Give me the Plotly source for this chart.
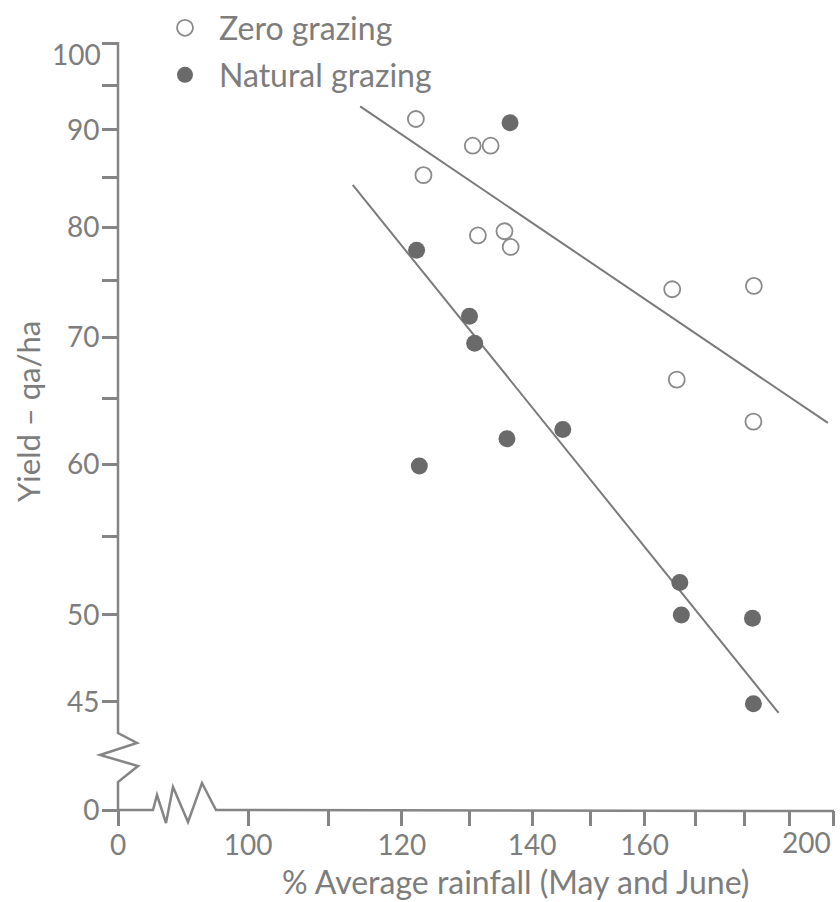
import math
import plotly.graph_objects as go

# ---------------- data ----------------
zero_x = [122.0, 130.5, 133.3, 123.1, 131.3, 135.5, 136.5, 165.3, 182.1, 166.2, 182.0]
zero_y = [91.2, 88.3, 88.3, 85.2, 79.2, 79.6, 78.1, 74.2, 74.5, 66.5, 63.2]
natural_x = [136.4, 122.1, 130.0, 130.8, 145.2, 135.9, 122.5, 166.8, 167.1, 181.8, 182.0]
natural_y = [90.8, 77.8, 71.8, 69.5, 62.6, 61.9, 59.9, 52.0, 50.0, 49.8, 44.9]

zero_fit_x = [114.2, 198.8]
zero_fit_y = [92.6, 63.1]
natural_fit_x = [113.2, 187.5]
natural_fit_y = [84.2, 44.4]

x_tick_vals = [100, 110, 120, 130, 140, 150, 160, 170, 180, 190, 200]
x_tick_text = ["100", "", "120", "", "140", "", "160", "", "", "", "200"]
y_tick_vals = [45, 50, 55, 60, 65, 70, 75, 80, 85, 90, 95, 100]
y_tick_text = ["45", "50", "", "60", "", "70", "", "80", "", "90", "", "100"]
break_label = "0"

# ---------------- geometry ----------------
W, H = 840, 902
L, R, T, B = 118, 6, 42, 92
PW, PH = W - L - R, H - T - B
DEC_X, DEC_Y = 1943.0, 1900.0           # pixels per decade (log-log plot)
x_hi = math.log10(200) + 1 / DEC_X
x_lo = x_hi - PW / DEC_X
y_hi = 2 + 1 / DEC_Y
y_lo = y_hi - PH / DEC_Y
x_break = 10 ** x_lo                    # position used for the broken-axis "0"
y_break = 10 ** y_lo

GREY = "#858585"
TXT = "#7d7d7d"
FONT = "Lato, sans-serif"
TICK_SIZE = 28


def px(x):
    return (x - L) / PW


def py(y):
    return (H - B - y) / PH


def path(points):
    return "M " + " L ".join(f"{px(a):.5f},{py(b):.5f}" for a, b in points)


fig = go.Figure()

fig.add_trace(go.Scatter(x=zero_fit_x, y=zero_fit_y, mode="lines",
                         line=dict(color="#7a7a7a", width=2), showlegend=False,
                         hoverinfo="skip"))
fig.add_trace(go.Scatter(x=natural_fit_x, y=natural_fit_y, mode="lines",
                         line=dict(color="#7a7a7a", width=2), showlegend=False,
                         hoverinfo="skip"))
fig.add_trace(go.Scatter(x=zero_x, y=zero_y, mode="markers", name="Zero grazing",
                         marker=dict(symbol="circle-open", size=16, color="#8a8a8a",
                                     line=dict(width=1.8, color="#8a8a8a")),
                         legend="legend"))
fig.add_trace(go.Scatter(x=natural_x, y=natural_y, mode="markers", name="Natural grazing",
                         marker=dict(symbol="circle", size=17, color="#6a6a6a",
                                     line=dict(width=0)),
                         legend="legend2"))

# axis lines with break zig-zags
y_axis_pts = [(118, 42), (118, 733), (137, 743), (100, 755), (138, 766), (118, 782), (118, 811)]
x_axis_pts = [(118, 810), (153, 810), (157, 795), (166, 823), (173, 787), (188, 822),
              (202, 783), (216, 810), (834, 811)]
shapes = [
    dict(type="path", path=path(y_axis_pts), xref="paper", yref="paper",
         line=dict(color=GREY, width=2.5)),
    dict(type="path", path=path(x_axis_pts), xref="paper", yref="paper",
         line=dict(color=GREY, width=2.5)),
]

# end-of-axis labels are set slightly inward in the original drawing
x_text_ax = list(x_tick_text)
x_end_label = x_text_ax[-1]
x_text_ax[-1] = ""
y_text_ax = list(y_tick_text)
y_end_label = y_text_ax[-1]
y_text_ax[-1] = ""

annotations = [
    dict(text="% Average rainfall (May and June)", x=px(515), y=py(881.5),
         xref="paper", yref="paper", showarrow=False, xanchor="center", yanchor="middle",
         font=dict(family=FONT, size=32, color=TXT)),
    dict(text="Yield – qa/ha", x=px(28), y=py(412), textangle=-90,
         xref="paper", yref="paper", showarrow=False, xanchor="center", yanchor="middle",
         font=dict(family=FONT, size=31, color=TXT)),
    dict(text=x_end_label, x=math.log10(x_tick_vals[-1]), xref="x", xshift=-27,
         y=py(842), yref="paper", showarrow=False, xanchor="center", yanchor="middle",
         font=dict(family=FONT, size=TICK_SIZE, color=TXT)),
    dict(text=y_end_label, y=math.log10(y_tick_vals[-1]), yref="y", yshift=-11,
         x=px(103), xref="paper", showarrow=False, xanchor="right", yanchor="middle",
         font=dict(family=FONT, size=TICK_SIZE, color=TXT)),
]

fig.update_layout(
    width=W, height=H,
    margin=dict(l=L, r=R, t=T, b=B, pad=0, autoexpand=False),
    paper_bgcolor="white", plot_bgcolor="white",
    font=dict(family=FONT, color=TXT, size=27),
    xaxis=dict(type="log", range=[x_lo, x_hi], showline=False, showgrid=False,
               zeroline=False, ticks="outside", ticklen=15, tickwidth=2.5,
               tickcolor=GREY, tickmode="array", automargin=False, ticklabelstandoff=-5,
               tickvals=[x_break] + x_tick_vals, ticktext=[break_label] + x_text_ax,
               tickfont=dict(family=FONT, size=TICK_SIZE, color=TXT)),
    yaxis=dict(type="log", range=[y_lo, y_hi], showline=False, showgrid=False,
               zeroline=False, ticks="outside", ticklen=15, tickwidth=2.5,
               tickcolor=GREY, tickmode="array", ticklabelstandoff=-3, automargin=False,
               tickvals=[y_break] + y_tick_vals, ticktext=[break_label] + y_text_ax,
               tickfont=dict(family=FONT, size=TICK_SIZE, color=TXT)),
    legend=dict(x=px(151), y=py(28), xanchor="left", yanchor="middle",
                bgcolor="rgba(0,0,0,0)", itemwidth=58,
                font=dict(family=FONT, size=32, color=TXT)),
    legend2=dict(x=px(151), y=py(75), xanchor="left", yanchor="middle",
                 bgcolor="rgba(0,0,0,0)", itemwidth=58,
                 font=dict(family=FONT, size=32, color=TXT)),
    shapes=shapes,
    annotations=annotations,
)

fig.write_html("out.html")
